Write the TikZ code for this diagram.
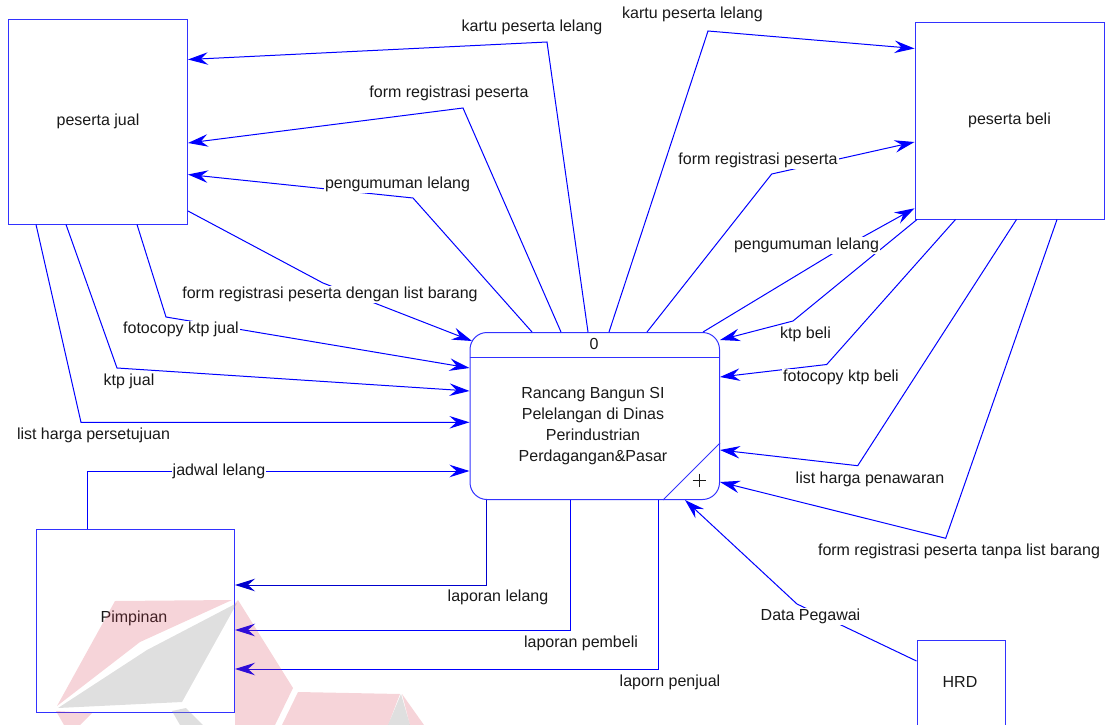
\documentclass[tikz,border=0pt]{standalone}
\usepackage{fontspec}
\setmainfont{Liberation Sans}
\usetikzlibrary{arrows.meta}
\definecolor{ln}{RGB}{0,0,255}
\definecolor{lnd}{RGB}{0,0,205}
\definecolor{bx}{RGB}{50,50,255}
\definecolor{tx}{RGB}{25,25,25}
\definecolor{wmred}{RGB}{215,60,80}
\definecolor{wmgray}{RGB}{150,150,150}
\begin{document}
\begin{tikzpicture}[x=1pt,y=-1pt,
  font=\fontsize{16}{21}\selectfont, text=tx,
  flow/.style={draw=ln, line width=1pt, -{Stealth[length=20pt,width=12.5pt,inset=7pt]}},
  lbl/.style={fill=white, inner sep=1pt, text height=11.5pt, text depth=3.5pt},
  ent/.style={draw=bx, line width=1pt, inner sep=0pt},
  wmr/.style={fill=wmred, fill opacity=0.22, draw=none},
  wmg/.style={fill=wmgray, fill opacity=0.3, draw=none}]
\useasboundingbox (0,0) rectangle (1105,725);

% entities
\node[ent, minimum width=179pt, minimum height=204.5pt] (pj) at (98,121.75) {peserta jual};
\node[ent, minimum width=189pt, minimum height=196.5pt] (pb) at (1009.5,120.75) {peserta beli};
\node[ent, minimum width=198.5pt, minimum height=183.5pt] (pim) at (135.25,620.75) {};
\node (pimtxt) at (134,618) {Pimpinan};
\node[ent, minimum width=88pt, minimum height=88pt] (hrd) at (961,684) {};
\node (hrdtxt) at (960,682) {HRD};

% process
\node[ent, rounded corners=17pt, minimum width=249.5pt, minimum height=167pt] (proc) at (594.75,416) {};
\draw[bx, line width=1pt] (proc.west |- 0,357) -- (proc.east |- 0,357);
\draw[bx, line width=1pt] (proc.east |- 0,443) -- (proc.south -| 663,0);
\node (pnum) at (594,344) {0};
\node[align=center] (ptxt) at (593,426) {Rancang Bangun SI\\Pelelangan di Dinas\\Perindustrian\\Perdagangan\&Pasar};
\draw[tx, line width=0.8pt] (692.7,480) -- (706,480) (699.3,473.5) -- (699.3,486.5);

% flows peserta jual side
\draw[flow] (proc.north -| 588,0) -- (547,42) -- (pj.east |- 0,59.5);
\draw[flow] (proc.north -| 561,0) -- (463,108) -- (pj.east |- 0,143);
\draw[flow] (proc.north -| 532,0) -- (413,198) -- (pj.east |- 0,174.5);
\draw[flow] (pj.east |- 0,211) -- (323,283) -- (472,341);
\draw[flow] (pj.south -| 137,0) -- (166,317) -- (proc.west |- 0,368);
\draw[flow] (pj.south -| 66,0) -- (117,368) -- (proc.west |- 0,391);
\draw[flow] (pj.south -| 36,0) -- (81,422.3) -- (proc.west |- 0,422.3);
\draw[flow] (pim.north -| 87.7,0) -- (87.7,471) -- (proc.west |- 0,471);

% flows to pimpinan
\draw[flow, draw=lnd] (proc.south -| 486,0) -- (486,585) -- (pim.east |- 0,585);
\draw[flow] (proc.south -| 570,0) -- (570,630) -- (pim.east |- 0,630);
\draw[flow] (proc.south -| 658,0) -- (658,669) -- (pim.east |- 0,669);

% HRD
\draw[flow] (hrd.west |- 0,661) -- (797,604) -- (proc.south -| 685,0);

% flows peserta beli side
\draw[flow] (proc.north -| 609,0) -- (708,31) -- (pb.west |- 0,48.5);
\draw[flow] (proc.north -| 647,0) -- (771.7,174) -- (pb.west |- 0,142);
\draw[flow] (proc.north -| 703,0) -- (832,254) -- (pb.west |- 0,208.3);
\draw[flow] (pb.south -| 917,0) -- (793,321) -- (proc.east |- 0,340);
\draw[flow] (pb.south -| 955.5,0) -- (826.7,364.5) -- (proc.east |- 0,377);
\draw[flow] (pb.south -| 1016.5,0) -- (857.7,465.7) -- (proc.east |- 0,450);
\draw[flow] (pb.south -| 1057,0) -- (945.7,538.3) -- (proc.east |- 0,482);

% labels
\node[lbl] (l1) at (532,28) {kartu peserta lelang};
\node[lbl] (l2) at (449,93) {form registrasi peserta};
\node[lbl] (l3) at (397.5,184) {pengumuman lelang};
\node[lbl] (l4) at (330,294) {form registrasi peserta dengan list barang};
\node[lbl] (l5) at (181,329) {fotocopy ktp jual};
\node[lbl] (l6) at (129,381) {ktp jual};
\node[lbl] (l7) at (93.5,435) {list harga persetujuan};
\node[lbl] (l8) at (219,471) {jadwal lelang};
\node[lbl] (l9) at (498,597.5) {laporan lelang};
\node[lbl] (l10) at (581,643) {laporan pembeli};
\node[lbl] (l11) at (670,682) {laporn penjual};
\node[lbl] (l12) at (810.5,616) {Data Pegawai};
\node[lbl] (r1) at (692.5,15) {kartu peserta lelang};
\node[lbl] (r2) at (758,160) {form registrasi peserta};
\node[lbl] (r3) at (806.5,245) {pengumuman lelang};
\node[lbl] (r4) at (805.5,334) {ktp beli};
\node[lbl] (r5) at (841,377.5) {fotocopy ktp beli};
\node[lbl] (r6) at (870,479) {list harga penawaran};
\node[lbl] (r7) at (959,551.5) {form registrasi peserta tanpa list barang};

% watermark
\fill[wmr] (115,601) -- (232,600) -- (140,642) -- (57,706) -- cycle;
\fill[wmg] (237,603) -- (147,650) -- (58,708) -- (182,702) -- cycle;
\fill[wmg] (172,711) -- (186,708) -- (203,725) -- (180,725) -- cycle;
\fill[wmr] (56,711) -- (92,713) -- (80,725) -- (64,725) -- cycle;
\fill[wmr] (238,600) -- (293,688) -- (275,725) -- (235,725) -- (235,603) -- cycle;
\fill[wmr] (298,692) -- (400,694) -- (388,725) -- (282,725) -- cycle;
\fill[wmr] (402,694) -- (424,725) -- (410,725) -- cycle;
\fill[wmg] (401,694) -- (410,725) -- (388,725) -- cycle;
\end{tikzpicture}
\end{document}
